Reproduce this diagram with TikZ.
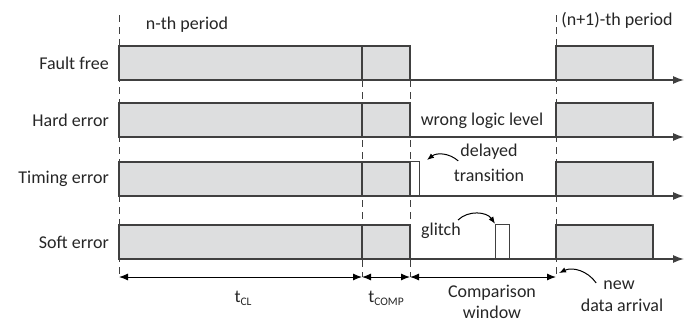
\documentclass[tikz,border=0pt]{standalone}
\usepackage{fontspec}
\setmainfont{Carlito}
\usetikzlibrary{arrows.meta}

\definecolor{linegray}{RGB}{64,64,64}
\definecolor{boxgray}{RGB}{221,222,223}
\definecolor{txtgray}{RGB}{38,38,38}

\newcommand{\tsub}[1]{t\raisebox{-0.35ex}{\fontsize{11.5}{12}\selectfont #1}}

\begin{document}
\begin{tikzpicture}[x=1pt, y=-1pt, font=\fontsize{18}{21}\selectfont, text=txtgray,
		wave/.style={draw=linegray, line width=1.4pt, fill=boxgray},
		pulse/.style={draw=linegray, line width=1.2pt, fill=white, minimum width=#1, minimum height=34pt, inner sep=0pt, anchor=south west},
		axis/.style={draw=linegray, line width=1.4pt, -{Latex[length=11pt,width=8pt]}},
		boundary/.style={draw=linegray, line width=1pt, dash pattern=on 7pt off 5pt},
		span/.style={draw=black, line width=1pt, {Latex[length=9pt,width=7pt]}-{Latex[length=9pt,width=7pt]}},
		note/.style={draw=black, line width=1pt, -{Latex[length=7pt,width=5.5pt]}},
		lbl/.style={inner sep=1pt}]
	\useasboundingbox (0,0) rectangle (685,322);
	% period boundaries
	\coordinate (t0) at (119,277);
	\coordinate (t1) at (362,277);
	\coordinate (t2) at (410,277);
	\coordinate (t3) at (556,277);
	\draw[boundary] (119,15) -- (t0);
	\draw[boundary] (362,80) -- (t1);
	\draw[boundary] (410,80) -- (t2);
	\draw[boundary] (556,15) -- (t3);
	\node[lbl] (nth) at (187,25) {n-th period};
	\node[lbl] (nnext) at (617,20) {(n+1)-th period};
	% signals
	\foreach \y/\name/\id in {80/Fault free/ff, 137/Hard error/he, 196/Timing error/te, 259/Soft error/se} {
		\draw[axis] (119,\y) -- (684,\y);
		\draw[wave] (119,\y) rectangle (410,{\y-34});
		\draw[wave] (362,{\y-34}) -- (362,\y);
		\draw[wave] (556,\y) rectangle (653,{\y-34});
		\node[lbl, anchor=east] (\id) at (110,{\y-17}) {\name};
	}
	\node[pulse=9pt] (late) at (410,196) {};
	\node[pulse=14pt] (spike) at (495,259) {};
	\node[lbl] (wrong) at (482,121) {wrong logic level};
	\node[lbl] (delayed) at (489,152) {delayed};
	\node[lbl] (trans) at (489,175) {transition};
	\node[lbl] (glitch) at (441,231) {glitch};
	\coordinate (lateend) at (427,160);
	\draw[note] ([xshift=-1pt]delayed.south west) to[bend right=40] (lateend);
	\draw[note] ([xshift=-4pt,yshift=2pt]glitch.north east) to[bend left=50] (spike.north west);
	% time spans
	\draw[span] (t0) -- (t1);
	\draw[span] (t1) -- (t2);
	\draw[span] (t2) -- (t3);
	\node[lbl] (tcl) at (243,298) {\tsub{CL}};
	\node[lbl] (tcomp) at (386,298) {\tsub{COMP}};
	\node[lbl, align=center] (window) at (492,302) {Comparison\\window};
	\node[lbl] (new) at (619,285) {new};
	\node[lbl] (data) at (622,305) {data arrival};
	\coordinate (arrive) at (559,273);
	\draw[note] ([xshift=-6pt,yshift=2pt]new.west) to[bend right=40] (arrive);
\end{tikzpicture}
\end{document}
